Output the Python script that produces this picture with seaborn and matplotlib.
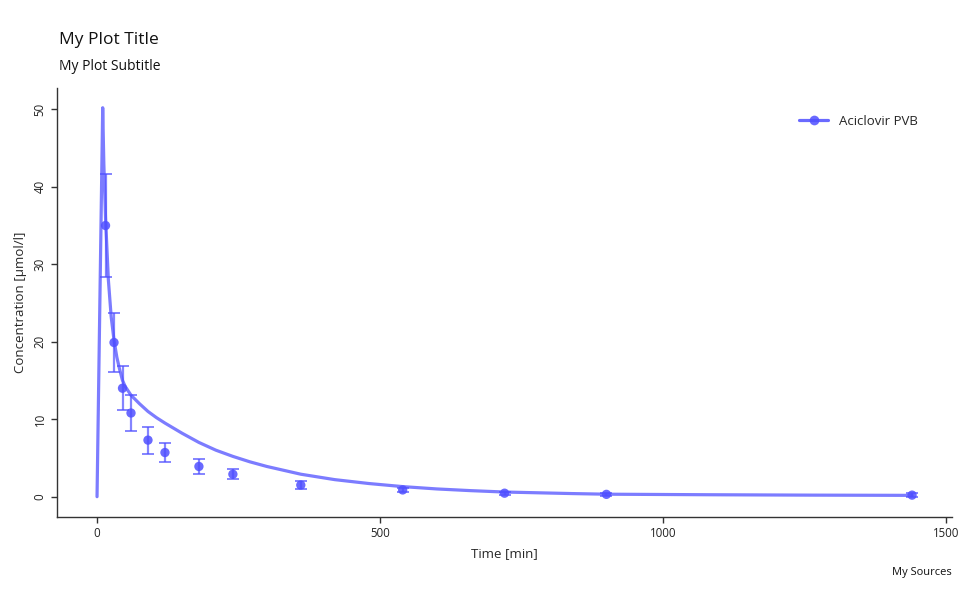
import numpy as np
import pandas as pd
import seaborn as sns
import matplotlib.pyplot as plt

# fitted curve
curve_time = [0, 10, 12, 15, 20, 25, 30, 35, 40, 45, 50, 60, 75, 90, 105, 120,
              150, 180, 210, 240, 270, 300, 330, 360, 420, 480, 540, 600, 660,
              720, 840, 900, 1080, 1260, 1440]
curve_conc = [0, 50.2, 43.0, 36.0, 28.0, 23.2, 20.2, 18.0, 16.4, 15.0, 14.2,
              13.1, 12.0, 11.0, 10.2, 9.5, 8.2, 7.0, 6.0, 5.2, 4.5, 3.9, 3.4,
              2.9, 2.2, 1.7, 1.3, 1.0, 0.78, 0.6, 0.4, 0.32, 0.25, 0.2, 0.17]

# observed means and sd
obs_time = [15, 30, 45, 60, 90, 120, 180, 240, 360, 540, 720, 900, 1440]
obs_mean = [35.0, 19.9, 14.0, 10.8, 7.3, 5.7, 3.9, 2.9, 1.5, 0.87, 0.45, 0.3, 0.2]
obs_sd = [6.7, 3.8, 2.85, 2.3, 1.75, 1.2, 1.0, 0.65, 0.5, 0.25, 0.2, 0.2, 0.3]

label = "Aciclovir PVB"
blue = "#5050ff"

curve = pd.DataFrame({"time": curve_time, "conc": curve_conc})
obs = pd.DataFrame({"time": obs_time, "conc": obs_mean, "sd": obs_sd})

sns.set_style("white")
plt.rcParams["font.family"] = ["Open Sans", "DejaVu Sans"]

fig = plt.figure(figsize=(9.6, 5.93), dpi=100)
ax = fig.add_axes([0.0594, 0.1282, 0.9323, 0.7234])

sns.lineplot(data=curve, x="time", y="conc", ax=ax, color=blue,
             alpha=0.75, linewidth=2.3, label=None)

ax.errorbar(obs["time"], obs["conc"], yerr=obs["sd"], fmt="none",
            ecolor=blue, alpha=0.7, elinewidth=1.6, capsize=4, capthick=1.4)

sns.scatterplot(data=obs, x="time", y="conc", ax=ax, color=blue,
                alpha=0.85, s=45, edgecolor="none")

# legend handle: line with marker
handle, = ax.plot([], [], color=blue, alpha=0.85, linewidth=2.3,
                  marker="o", markersize=7, markeredgewidth=0)
ax.legend([handle], [label], loc="upper right", frameon=False,
          fontsize=9.5, bbox_to_anchor=(0.975, 0.965), handlelength=2.2)

ax.set_xlim(-70.7, 1510.6)
ax.set_ylim(-2.62, 52.75)
ax.set_xticks([0, 500, 1000, 1500])
ax.set_yticks([0, 10, 20, 30, 40, 50])

for side in ["top", "right"]:
    ax.spines[side].set_visible(False)
for side in ["left", "bottom"]:
    ax.spines[side].set_color("#333333")
    ax.spines[side].set_linewidth(1.0)

ax.tick_params(axis="both", direction="out", length=4, width=1,
               color="#333333", labelsize=8.3, labelcolor="#222222",
               left=True, bottom=True)
for lab in ax.get_yticklabels():
    lab.set_rotation(90)
    lab.set_va("center")

ax.set_xlabel("Time [min]", fontsize=9.5, labelpad=5)
ax.set_ylabel("Concentration [µmol/l]", fontsize=9.5, labelpad=5)

fig.text(59 / 960, 1 - 40 / 593, "My Plot Title", fontsize=12.5,
         va="center", ha="left", color="#111111")
fig.text(59 / 960, 1 - 67 / 593, "My Plot Subtitle", fontsize=10,
         va="center", ha="left", color="#111111")
fig.text(952 / 960, 1 - 573 / 593, "My Sources", fontsize=8,
         va="center", ha="right", color="#111111")

fig.savefig("out.png", dpi=100)
